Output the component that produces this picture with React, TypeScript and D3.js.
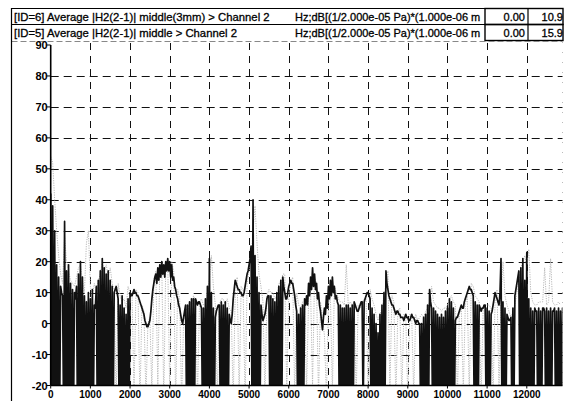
import React from "react";
import * as d3 from "d3";

// Channel spectra in dB; channel A sampled every 25 Hz, channel B every 50 Hz
const STEP_A = 25;
const STEP_B = 50;

const channelA = [
  42, -30, 38, -30, 30, -30, 19, -30, 15, -30,
  12, 10, 9, -30, 33, -30, 17, -30, 19, -30,
  13, -30, 11, -30, 10, 8, 12, -30, 16, -30,
  20, -30, 15, -30, 9, -30, 7, -30, 10, -30,
  8, -30, 11, -30, 6, 5, 12, -30, 14, -30,
  17, -30, 21, -30, 18, -30, 16, -30, 17, -30,
  14, -30, 12, -30, 10, 11, 12, 10, 8, -30,
  6, -30, 9, -30, 5, -30, 3, -30, 8, -30,
  10, 9, 9, 10, 11, 10, 10, 9, 9, 8,
  7, 6, 5, 4, 3, 1, 0, -1, -1, 0,
  1, 4, 8, 11, 13, 15, 16, 13, 18, 14,
  19, 15, 20, 16, 19, 15, 20, 17, 21, 17,
  20, 15, 19, 14, 15, 12, 11, 9, 8, 6,
  5, 3, 1, 0, 2, 4, 6, -30, 6, -30,
  7, -30, 8, -30, 8, -30, 8, 7, 6, 7,
  7, 6, 5, -30, 5, -30, 8, -30, 12, -30,
  21, -30, 10, -30, 5, -30, 2, 4, 5, 6,
  6, -30, 7, -30, 6, -30, 7, -30, 5, -30,
  3, 1, 0, 3, 8, 11, 14, 13, 12, 11,
  11, 10, 10, 9, 9, 10, 12, 14, 16, 17,
  19, 21, 25, -30, 40, -30, 22, -30, 15, -30,
  10, -30, 6, 3, 1, 2, 3, 5, 8, 9,
  9, -30, 9, -30, 8, -30, 7, -30, 10, -30,
  12, -30, 14, -30, 15, 12, 10, 8, 8, 10,
  12, 13, 14, 13, 13, 11, 9, 6, 4, -30,
  3, -30, 5, -30, 6, -30, 8, 6, 9, 6,
  13, 9, 15, 11, 18, 12, 16, 11, 13, 8,
  10, 6, 4, 1, -2, 2, 5, 3, 9, 5,
  12, 8, 14, 9, 15, 10, 12, 8, 9, 7,
  6, -30, 6, -30, 5, -30, 5, -30, 6, -30,
  6, -30, 5, -30, 6, -30, 7, 6, 5, 4,
  4, 5, 6, 7, 7, -30, 7, 8, 9, 10,
  10, 9, 8, -30, 5, -30, 3, -30, 0, -30,
  -3, -30, 3, -30, 6, -30, 10, -30, 17, 13,
  11, 9, 8, 7, 6, 6, 5, 4, 3, 4,
  4, 3, 3, 2, 2, 2, 1, 2, 3, 2,
  2, 1, 1, 2, 3, 2, 2, 1, 0, 1,
  1, 0, 0, -30, 0, -30, 2, -30, 3, -30,
  6, -30, 11, 7, 5, -30, 5, -30, 4, -30,
  3, -30, 2, -30, 3, -30, 2, -30, 4, -30,
  5, -30, 8, -30, 7, -30, 5, -30, 1, 2,
  2, 3, 4, 5, 6, 5, 5, 7, 8, 9,
  10, 11, 12, 11, 11, 10, 9, -30, 7, -30,
  6, -30, 6, 5, 4, 5, 5, 6, 6, -30,
  5, -30, 4, -30, 3, 4, 6, 8, 10, 9,
  8, 7, 6, 10, 21, -30, 7, -30, 5, -30,
  3, 2, 1, 1, 2, -30, 5, -30, 9, 11,
  13, 15, 17, -30, 18, -30, 21, -30, 14, -30,
  23, -30, 8, -30, 5, -30, 4, -30, 5, 4,
  4, -30, 5, -30, 4, -30, 5, 5, 4, -30,
  5, -30, 4, -30, 5, -30, 4, 4, 5, -30,
  4, -30, 5, -30, 4, -30, 5, -30,
];

const channelB = [
  54, 52, 40, 30, 22, 16, 13, 28, 20, 17, 14,
  13, 12, 15, 18, 19, 14, 10, 26, 30, 12,
  9, 13, 10, 14, 16, 20, 17, 19, 15, 18,
  13, 11, -25, 13, 9, 7, 8, 5, 12, 10,
  10, -22, 11, 10, -25, 6, 4, -24, 0, 2,
  -22, 14, 17, -20, 18, 19, -25, 19, 20, -22,
  20, 17, -26, 11, 8, -25, 1, 5, 4, 7,
  6, 9, 7, -24, 7, 8, 6, 6, 10, 14,
  22, 12, 6, -24, 6, 8, 8, 6, 8, 5,
  4, -25, 9, 15, -24, 12, 11, -25, 13, 17,
  21, 30, 38, 26, 16, 12, 7, -24, 9, 11,
  10, 10, 8, 9, 13, 13, 16, 16, -22, 9,
  13, 15, -24, 10, 6, 5, 7, 7, -22, 8,
  11, -20, 15, 13, -24, 7, 2, -4, -24, 6,
  9, -22, 12, 10, 8, 7, 7, 6, 19, 6,
  7, 6, 7, -24, 6, 5, 7, 8, 8, -22,
  11, 8, 6, 3, 1, 3, 5, 9, 13, 17,
  -22, 9, 7, -25, 4, 5, -24, 3, 2, -24,
  3, 2, -23, 3, 1, 2, 3, 2, 4, 5,
  7, 12, 7, 6, 5, 5, 4, 5, 5, 6,
  8, 9, 7, 6, -24, 3, 5, -22, 6, 9,
  -23, 13, 12, 9, 8, 7, -24, 5, 6, 6,
  6, 5, -24, 7, 11, -22, 7, 20, 9, 6,
  4, 2, 4, 6, 10, 14, 18, 20, 22, 18,
  24, 10, 7, 6, 6, 7, 7, 7, 18, 6,
  7, 21, 7, 6, 6, 7, 6,
];

const xTickValues = [0, 1000, 2000, 3000, 4000, 5000, 6000, 7000, 8000, 9000, 10000, 11000, 12000];
const yTickValues = [90, 80, 70, 60, 50, 40, 30, 20, 10, 0, -10, -20];

const traceNames = [
  "[ID=6] Average |H2(2-1)| middle(3mm) > Channel 2",
  "[ID=5] Average |H2(2-1)| middle > Channel 2",
];
const traceUnits = [
  "Hz;dB[(1/2.000e-05 Pa)*(1.000e-06 m",
  "Hz;dB[(1/2.000e-05 Pa)*(1.000e-06 m",
];
const traceFrom = ["0.00", "0.00"];
const traceTo = ["10.9", "15.9"];

const W = 566;
const H = 401;
const plotLeft = 50.7;
const plotRight = 562.5;
const plotTop = 45;
const plotBottom = 385.5;

const x = d3.scaleLinear().domain([0, 12900]).range([plotLeft, plotRight]);
const y = d3.scaleLinear().domain([-20, 90]).range([plotBottom, plotTop]);

const FONT = "'Liberation Sans', Arial, sans-serif";

function tracePath(values: number[], step: number) {
  return (
    d3
      .line<number>()
      .x((_, i) => x(i * step))
      .y((d) => y(d))(values) ?? ""
  );
}

export default function App() {
  const rowTop = [8.5, 24.5];
  const rowH = 16.5;
  const unitX = 295;
  const divA = 485;
  const divB = 528;

  return (
    <div style={{ position: "fixed", left: 0, top: 0, width: W, height: H, background: "#fff" }}>
      <svg width={W} height={H} style={{ display: "block", fontFamily: FONT }}>
        <rect width={W} height={H} fill="#fff" />
        <defs>
          <clipPath id="plotClip">
            <rect x={plotLeft} y={42} width={plotRight - plotLeft} height={plotBottom - 42} />
          </clipPath>
        </defs>

        {/* header table with trace descriptions */}
        {traceNames.map((name, r) => (
          <g key={name}>
            <text x={14} y={rowTop[r] + 12.5} fontSize={11.3} fill="#000" stroke="#000" strokeWidth={0.3}>
              {name}
            </text>
            <text x={unitX} y={rowTop[r] + 12.5} fontSize={11} fill="#000" stroke="#000" strokeWidth={0.3}>
              {traceUnits[r]}
            </text>
            <text x={divB - 3} y={rowTop[r] + 12.5} fontSize={11} textAnchor="end" fill="#000" stroke="#000" strokeWidth={0.3}>
              {traceFrom[r]}
            </text>
            <text x={plotRight + 0.5} y={rowTop[r] + 12.5} fontSize={11} textAnchor="end" fill="#000" stroke="#000" strokeWidth={0.3}>
              {traceTo[r]}
            </text>
            <rect x={divA} y={rowTop[r]} width={plotRight + 0.5 - divA} height={rowH - 0.5} fill="none" stroke="#000" strokeWidth={1.4} />
            <line x1={divB} x2={divB} y1={rowTop[r]} y2={rowTop[r] + rowH} stroke="#000" strokeWidth={1.2} />
          </g>
        ))}
        <line x1={11.5} x2={divA} y1={8.5} y2={8.5} stroke="#000" strokeWidth={1.2} />
        <line x1={11.5} x2={divA} y1={24.5} y2={24.5} stroke="#000" strokeWidth={1.2} />
        <line x1={11.5} x2={plotRight} y1={41.5} y2={41.5} stroke="#888" strokeWidth={1} strokeDasharray="6 3" />
        <line x1={11.5} x2={11.5} y1={8} y2={H} stroke="#000" strokeWidth={1.2} />

        {/* grid */}
        {yTickValues
          .filter((v) => v !== -20 && v !== 90)
          .map((v) => (
            <line key={"gy" + v} x1={plotLeft} x2={plotRight} y1={Math.round(y(v)) + 0.5} y2={Math.round(y(v)) + 0.5}
              stroke="#111" strokeWidth={1} strokeDasharray="8 5" />
          ))}
        {xTickValues
          .filter((v) => v !== 0)
          .map((v) => (
            <line key={"gx" + v} x1={Math.round(x(v)) + 0.5} x2={Math.round(x(v)) + 0.5} y1={43} y2={plotBottom}
              stroke="#111" strokeWidth={1} strokeDasharray="7 6" />
          ))}
        <line x1={plotRight} x2={plotRight} y1={42} y2={plotBottom} stroke="#bbb" strokeWidth={1} strokeDasharray="1 9" />

        {/* traces */}
        <g clipPath="url(#plotClip)">
          <path d={tracePath(channelB, STEP_B)} fill="none" stroke="#b8b8b8" strokeWidth={1} strokeDasharray="1.2 1.2" />
          <path d={tracePath(channelA, STEP_A)} fill="none" stroke="#111" strokeWidth={1.7} strokeLinejoin="round" />
        </g>

        {/* axes */}
        <line x1={plotLeft} x2={plotLeft} y1={plotTop} y2={plotBottom} stroke="#000" strokeWidth={1.6} />
        <line x1={plotLeft} x2={plotRight} y1={plotBottom} y2={plotBottom} stroke="#000" strokeWidth={1.6} />
        {yTickValues.map((v) => (
          <g key={"ty" + v}>
            <line x1={plotLeft - 4} x2={plotLeft} y1={y(v)} y2={y(v)} stroke="#000" strokeWidth={1} />
            <text x={plotLeft - 3} y={y(v) + 4} fontSize={11} fontWeight="bold" textAnchor="end" fill="#000">
              {v}
            </text>
          </g>
        ))}
        {xTickValues.map((v) => (
          <g key={"tx" + v}>
            <line x1={x(v)} x2={x(v)} y1={plotBottom} y2={plotBottom + 3} stroke="#000" strokeWidth={1} />
            <text x={x(v)} y={plotBottom + 12.5} fontSize={10} fontWeight="bold" textAnchor="middle" fill="#000">
              {v}
            </text>
          </g>
        ))}
      </svg>
    </div>
  );
}
